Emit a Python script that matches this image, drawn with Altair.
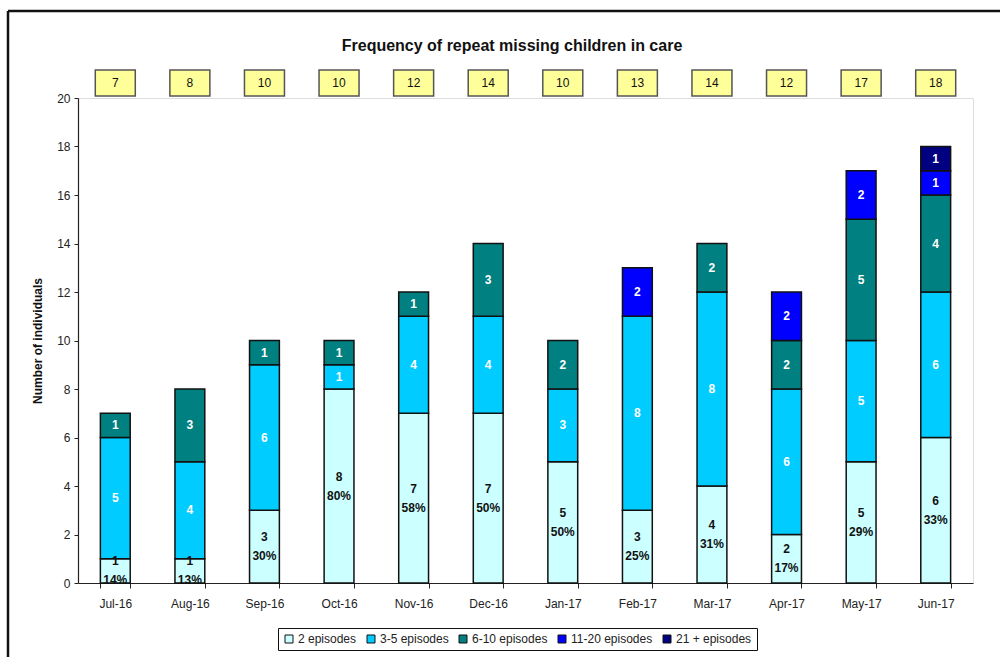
import altair as alt
import pandas as pd

# Monthly counts of repeat missing children, split by number of episodes
months = ["Jul-16", "Aug-16", "Sep-16", "Oct-16", "Nov-16", "Dec-16",
          "Jan-17", "Feb-17", "Mar-17", "Apr-17", "May-17", "Jun-17"]
series_names = ["2 episodes", "3-5 episodes", "6-10 episodes",
                "11-20 episodes", "21 + episodes"]
series_colors = ["#CCFFFF", "#00CCFF", "#008080", "#0000FF", "#000080"]

two_episodes = [1, 1, 3, 8, 7, 7, 5, 3, 4, 2, 5, 6]
three_to_five = [5, 4, 6, 1, 4, 4, 3, 8, 8, 6, 5, 6]
six_to_ten = [1, 3, 1, 1, 1, 3, 2, 0, 2, 2, 5, 4]
eleven_to_twenty = [0, 0, 0, 0, 0, 0, 0, 2, 0, 2, 2, 1]
twenty_one_plus = [0, 0, 0, 0, 0, 0, 0, 0, 0, 0, 0, 1]
two_episode_pct = [14, 13, 30, 80, 58, 50, 50, 25, 31, 17, 29, 33]

series_values = [two_episodes, three_to_five, six_to_ten,
                 eleven_to_twenty, twenty_one_plus]

TITLE = "Frequency of repeat missing children in care"
FONT = "Liberation Sans"

# Stacked segments with their lower and upper bounds
rows = []
for i, m in enumerate(months):
    base = 0
    for s, vals in zip(series_names, series_values):
        v = vals[i]
        if v == 0:
            continue
        if s == "2 episodes":
            label = f"{v}\n{two_episode_pct[i]}%"
        else:
            label = str(v)
        rows.append({"month": m, "series": s, "order": series_names.index(s),
                     "value": v, "lo": base, "hi": base + v,
                     "mid": base + v / 2, "label": label})
        base += v
seg = pd.DataFrame(rows)

totals = pd.DataFrame({
    "month": months,
    "total": [sum(vals[i] for vals in series_values) for i in range(len(months))],
})

x_enc = alt.X("month:N", sort=months,
              scale=alt.Scale(paddingInner=0.6, paddingOuter=0.3),
              axis=alt.Axis(title=None, labelAngle=0, tickBand="extent",
                            tickSize=5, labelPadding=10, labelFontSize=12,
                            labelFont=FONT, labelColor="#222",
                            domainColor="#222", tickColor="#222",
                            domainWidth=1.2))

y_scale = alt.Scale(domain=[0, 20], nice=False)

bars = alt.Chart(seg).mark_bar(stroke="#111", strokeWidth=1.5).encode(
    x=x_enc,
    y=alt.Y("lo:Q", scale=y_scale,
            axis=alt.Axis(title="Number of individuals", values=list(range(0, 21, 2)),
                          grid=False, tickSize=4, labelFontSize=12, labelFont=FONT,
                          labelColor="#222", domainColor="#222", tickColor="#222",
                          domainWidth=1.2, labelPadding=4,
                          titleFont=FONT, titleFontSize=12, titleFontWeight="bold",
                          titleColor="#111", titlePadding=12)),
    y2="hi:Q",
    color=alt.Color("series:N",
                    scale=alt.Scale(domain=series_names, range=series_colors),
                    legend=alt.Legend(title=None, orient="none", direction="horizontal",
                                      legendX=200, legendY=530,
                                      symbolType="square", symbolSize=64,
                                      symbolStrokeColor="#111", symbolStrokeWidth=1,
                                      labelFont=FONT, labelFontSize=12,
                                      labelColor="#222", labelOffset=3,
                                      columnPadding=8, padding=5,
                                      strokeColor="#111", fillColor="white")),
)

# Count and share of the 2-episode group, two lines centred on the segment
light_labels = alt.Chart(seg[seg["series"] == "2 episodes"]).mark_text(
    font=FONT, fontSize=12, fontWeight="bold", color="#111",
    baseline="middle", lineBreak="\n", lineHeight=19, dy=-9.5,
).encode(x=alt.X("month:N", sort=months), y=alt.Y("mid:Q"), text="label:N")

dark_labels = alt.Chart(seg[seg["series"] != "2 episodes"]).mark_text(
    font=FONT, fontSize=12, fontWeight="bold", color="white", baseline="middle",
).encode(x=alt.X("month:N", sort=months), y=alt.Y("mid:Q"), text="label:N")

# Yellow total boxes above the bars
boxes = alt.Chart(totals).mark_bar(
    width=40, fill="#FFFF99", stroke="#555", strokeWidth=1.5,
).encode(x=alt.X("month:N", sort=months), y=alt.value(-28), y2=alt.value(-2))

box_text = alt.Chart(totals).mark_text(
    font=FONT, fontSize=12, color="#111", baseline="middle",
).encode(x=alt.X("month:N", sort=months), y=alt.value(-15), text="total:Q")

# Chart heading
title_src = pd.DataFrame({"title": [TITLE]})
title_text = alt.Chart(title_src).mark_text(
    font=FONT, fontSize=16, fontWeight="bold", color="#111",
    baseline="middle", align="center",
).encode(x=alt.value(434), y=alt.value(-52), text="title:N")

# Outer chart frame
frame_src = pd.DataFrame({"k": [0]})
frame_left = alt.Chart(frame_src).mark_rule(color="#111", strokeWidth=2.5).encode(
    x=alt.value(-70), y=alt.value(-87), y2=alt.value(600))
frame_top = alt.Chart(frame_src).mark_rule(color="#111", strokeWidth=2.5).encode(
    x=alt.value(-70), x2=alt.value(940), y=alt.value(-87))

chart = alt.layer(
    frame_left, frame_top, bars, light_labels, dark_labels, boxes, box_text,
    title_text
).properties(
    width=895, height=485,
    autosize=alt.AutoSizeParams(type="none"),
    padding={"left": 78, "top": 98, "right": 27, "bottom": 74},
).configure_view(stroke="#999", strokeWidth=1.2).configure(background="white")

chart.save("out.html", embed_options={"renderer": "svg", "actions": False})
